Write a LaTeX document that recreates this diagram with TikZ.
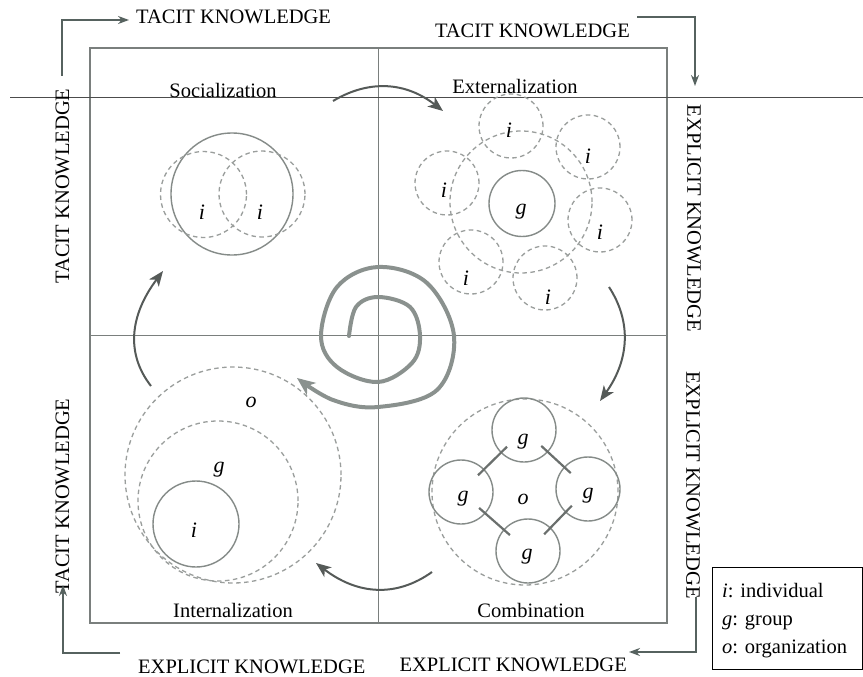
\documentclass[tikz,border=0pt]{standalone}
\usepackage{fontspec}
\setmainfont{Liberation Serif}
\usetikzlibrary{arrows.meta,calc}
\definecolor{framec}{HTML}{7A7F7D}
\definecolor{solidc}{HTML}{858B88}
\definecolor{dashc}{HTML}{9A9E9C}
\definecolor{spiralc}{HTML}{8A918E}
\definecolor{cycc}{HTML}{555A58}
\definecolor{elbowc}{HTML}{56625F}
\begin{document}
\begin{tikzpicture}[x=1pt,y=-1pt,
  txt/.style={font=\fontsize{20.5}{24}\selectfont, inner sep=0pt},
  lett/.style={font=\fontsize{22}{24}\selectfont\itshape, inner sep=0pt},
  sc/.style={circle, draw=solidc, line width=1.4pt, inner sep=0pt, minimum size=#1},
  dc/.style={circle, draw=dashc, line width=1.3pt, dash pattern=on 4.5pt off 3.5pt, inner sep=0pt, minimum size=#1},
  frm/.style={draw=framec, line width=1.2pt},
  elbow/.style={draw=elbowc, line width=2.4pt, -{Stealth[length=11pt,width=8pt]}},
  cyc/.style={draw=cycc, line width=2pt, -{Stealth[length=15pt,width=12pt,inset=4pt]}},
  spir/.style={draw=spiralc, line width=4pt, line cap=round, -{Stealth[length=18pt,width=15pt,inset=5pt]}},
  link/.style={draw=solidc!80!black, line width=2.2pt}
]
\useasboundingbox (0,0) rectangle (863,677);
\fill[white] (0,0) rectangle (863,677);

% frame
\node[frm, rectangle, minimum width=577pt, minimum height=575pt, inner sep=0pt] (sq) at (378.5,335.5) {};
\draw[frm] (sq.north) -- (sq.south);
\draw[frm] (sq.west) -- (sq.east);
% long top rule
\coordinate (r1) at (10,98);
\coordinate (r2) at (863,98);
\draw[draw=black!70, line width=1pt] (r1) -- (r2);

% outer texts
\node[txt, anchor=west] (t1) at (136,16.5) {TACIT KNOWLEDGE};
\node[txt, anchor=east] (t2) at (630,30.5) {TACIT KNOWLEDGE};
\node[txt, rotate=-90] (t3) at (694,218.5) {EXPLICIT KNOWLEDGE};
\node[txt, rotate=-90] (t4) at (693,485) {EXPLICIT KNOWLEDGE};
\node[txt, anchor=east] (t5) at (627,665) {EXPLICIT KNOWLEDGE};
\node[txt, anchor=west] (t6) at (138,666.5) {EXPLICIT KNOWLEDGE};
\node[txt, rotate=90] (t7) at (62.5,496) {TACIT KNOWLEDGE};
\node[txt, rotate=90] (t8) at (62.5,186) {TACIT KNOWLEDGE};

% elbow arrows
\coordinate (e1a) at (62,76);  \coordinate (e1b) at (129,20);
\coordinate (e2a) at (637,17); \coordinate (e2b) at (695,86);
\coordinate (e3a) at (696,597);\coordinate (e3b) at (629,652);
\coordinate (e4a) at (120,653);\coordinate (e4b) at (63,585);
\draw[elbow] (e1a) |- (e1b);
\draw[elbow] (e2a) -| (e2b);
\draw[elbow] (e3a) |- (e3b);
\draw[elbow] (e4a) -| (e4b);

% quadrant labels
\node[txt, anchor=base] (q1) at (223,98) {Socialization};
\node[txt, anchor=base] (q2) at (515,94) {Externalization};
\node[txt, anchor=base] (q3) at (233,617) {Internalization};
\node[txt, anchor=base] (q4) at (531,617) {Combination};

% Socialization
\node[sc=122pt] (s0) at (232,194) {};
\node[dc=86pt] (s1) at (203.5,194.5) {};
\node[dc=86pt] (s2) at (262,194) {};
\node[lett] (sl1) at (202,212) {i};
\node[lett] (sl2) at (260,212) {i};

% Externalization
\node[dc=142pt] (ering) at (521,202) {};
\node[sc=66pt] (eg) at (522,203.5) {};
\node[dc=64pt] (e1) at (511,126) {};
\node[dc=64pt] (e2) at (588,147) {};
\node[dc=64pt] (e3) at (600,220) {};
\node[dc=64pt] (e4) at (545,278) {};
\node[dc=64pt] (e5) at (471,262) {};
\node[dc=64pt] (e6) at (447,183) {};
\node[lett] (egl) at (521,212) {g};
\node[lett] (el1) at (509,130) {i};
\node[lett] (el2) at (588,156) {i};
\node[lett] (el3) at (600,232) {i};
\node[lett] (el4) at (548,297) {i};
\node[lett] (el5) at (466,278) {i};
\node[lett] (el6) at (444,190) {i};

% Combination
\node[dc=186pt] (co) at (525,492) {};
\node[sc=64pt] (ct) at (524,430) {};
\node[sc=64pt] (cl) at (461,492) {};
\node[sc=64pt] (cr) at (588,489) {};
\node[sc=64pt] (cb) at (528,551) {};
\draw[link] ($(ct)!0.27!(cl)$) -- ($(ct)!0.73!(cl)$);
\draw[link] ($(ct)!0.27!(cr)$) -- ($(ct)!0.73!(cr)$);
\draw[link] ($(cl)!0.27!(cb)$) -- ($(cl)!0.73!(cb)$);
\draw[link] ($(cr)!0.27!(cb)$) -- ($(cr)!0.73!(cb)$);
\node[lett] (ctl) at (523,442) {g};
\node[lett] (cll) at (463,499) {g};
\node[lett] (crl) at (588,496) {g};
\node[lett] (cbl) at (527,557) {g};
\node[lett] (col) at (523,499) {o};

% Internalization
\node[dc=216pt] (io) at (233,475) {};
\node[dc=160pt] (ig) at (218,501) {};
\node[sc=86pt] (ii) at (196,524) {};
\node[lett] (iol) at (251,402) {o};
\node[lett] (igl) at (219,470) {g};
\node[lett] (iil) at (194,530) {i};

% cycle arrows
\coordinate (a1s) at (333,101); \coordinate (a1e) at (443,111);
\coordinate (a2s) at (609,287); \coordinate (a2e) at (600,401);
\coordinate (a3s) at (432,572); \coordinate (a3e) at (316,563);
\coordinate (a4s) at (151,386); \coordinate (a4e) at (163,271);
\draw[cyc] (a1s) .. controls (369.7,79) and (406.3,82.3) .. (a1e);
\draw[cyc] (a2s) .. controls (632,322.3) and (629,360.3) .. (a2e);
\draw[cyc] (a3s) .. controls (396,597.7) and (357.3,594.7) .. (a3e);
\draw[cyc] (a4s) .. controls (125.7,353.7) and (129.7,315.3) .. (a4e);

% spiral
\draw[spir] plot[smooth, tension=0.6] coordinates {(349,336) (356,307) (378,297) (410,307) (420,336) (412,363) (378,382) (337,367) (321,336) (337,287) (378,267) (427,283) (454,336) (437,390) (378,407) (333,400) (297,378)};

% legend
\node[draw=black, line width=1pt, rectangle, minimum width=150pt, minimum height=102pt, inner sep=0pt] (leg) at (787,618) {};
\node[txt, anchor=base west] (lg1) at (722,597) {\textit{i}: individual};
\node[txt, anchor=base west] (lg2) at (722,625) {\textit{g}: group};
\node[txt, anchor=base west] (lg3) at (722,653) {\textit{o}: organization};
\end{tikzpicture}
\end{document}
